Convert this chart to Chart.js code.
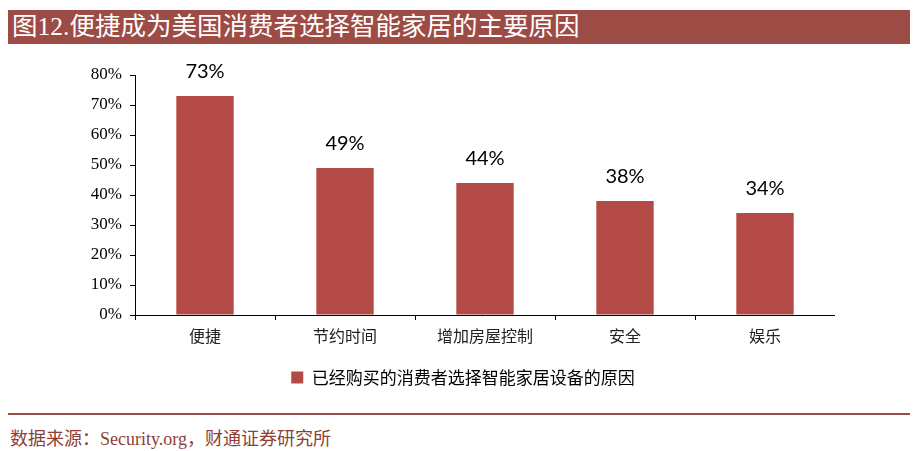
<!DOCTYPE html>
<html>
<head>
<meta charset="utf-8">
<script src="https://cdn.jsdelivr.net/npm/chart.js@4.4.0/dist/chart.umd.min.js"></script>
<style>
  body { margin: 0; width: 918px; height: 451px; background: #fff; position: relative; overflow: hidden; }
  #title {
    position: absolute; left: 8px; top: 10px; width: 898px; height: 34px;
    padding-left: 4px; background: #9d4b45; color: #fff;
    font: 25.5px "Liberation Serif", "Noto Sans CJK SC", serif; line-height: 34px;
  }
  #chartBox { position: absolute; left: 91px; top: 50px; width: 744px; height: 350px; }
  #rule { position: absolute; left: 8px; top: 413px; width: 902px; height: 2px; background: #9d4b45; }
  #source {
    position: absolute; left: 10px; top: 424px; color: #8e3f36;
    font: 18px "Liberation Serif", "Noto Sans CJK SC", serif;
  }
</style>
</head>
<body>
<div id="title">图12.便捷成为美国消费者选择智能家居的主要原因</div>
<div id="chartBox"><canvas id="barChart"></canvas></div>
<div id="rule"></div>
<div id="source">数据来源：Security.org，财通证券研究所</div>
<script>
const categories = ['便捷', '节约时间', '增加房屋控制', '安全', '娱乐'];
const reasonValues = [73, 49, 44, 38, 34];
const seriesName = '已经购买的消费者选择智能家居设备的原因';
const yTicks = [0, 10, 20, 30, 40, 50, 60, 70, 80];

// values above bars
const valueLabels = {
    id: 'valueLabels',
    afterDatasetsDraw(chart) {
        const ctx = chart.ctx;
        ctx.save();
        ctx.font = '20px Lato, "Noto Sans", sans-serif';
        ctx.fillStyle = '#000';
        ctx.textAlign = 'center';
        ctx.textBaseline = 'alphabetic';
        chart.getDatasetMeta(0).data.forEach((bar, i) => {
            ctx.fillText(reasonValues[i] + '%', bar.x, bar.y - 18);
        });
        ctx.restore();
    }
};

new Chart(document.getElementById('barChart'), {
    type: 'bar',
    data: {
        labels: categories,
        datasets: [{
            label: seriesName,
            data: reasonValues,
            backgroundColor: '#b44a46',
            borderWidth: 0,
            categoryPercentage: 0.82,
            barPercentage: 0.5
        }]
    },
    options: {
        responsive: true,
        maintainAspectRatio: false,
        animation: false,
        layout: { padding: { top: 25, left: 0, right: 0, bottom: 4 } },
        plugins: {
            legend: {
                position: 'bottom',
                labels: {
                    boxWidth: 12, boxHeight: 12, padding: 10,
                    color: '#000',
                    font: { size: 17, family: '"Noto Sans CJK SC", sans-serif' }
                }
            },
            tooltip: { enabled: false }
        },
        scales: {
            x: {
                afterFit: s => { s.height = 44; },
                grid: { offset: true, drawOnChartArea: false, tickLength: 5, color: '#000' },
                border: { color: '#000', width: 1 },
                ticks: { color: '#222', padding: 6, font: { size: 16, family: '"Noto Sans CJK SC", sans-serif' } }
            },
            y: {
                min: 0, max: 80,
                afterFit: s => { s.width = 44; },
                afterBuildTicks: s => { s.ticks = yTicks.map(v => ({ value: v })); },
                grid: { drawOnChartArea: false, tickLength: 5, color: '#000' },
                border: { color: '#000', width: 1 },
                ticks: {
                    color: '#000', padding: 8,
                    font: { size: 17, family: '"Liberation Serif", serif' },
                    callback: v => v + '%'
                }
            }
        }
    },
    plugins: [valueLabels]
});
</script>
</body>
</html>
